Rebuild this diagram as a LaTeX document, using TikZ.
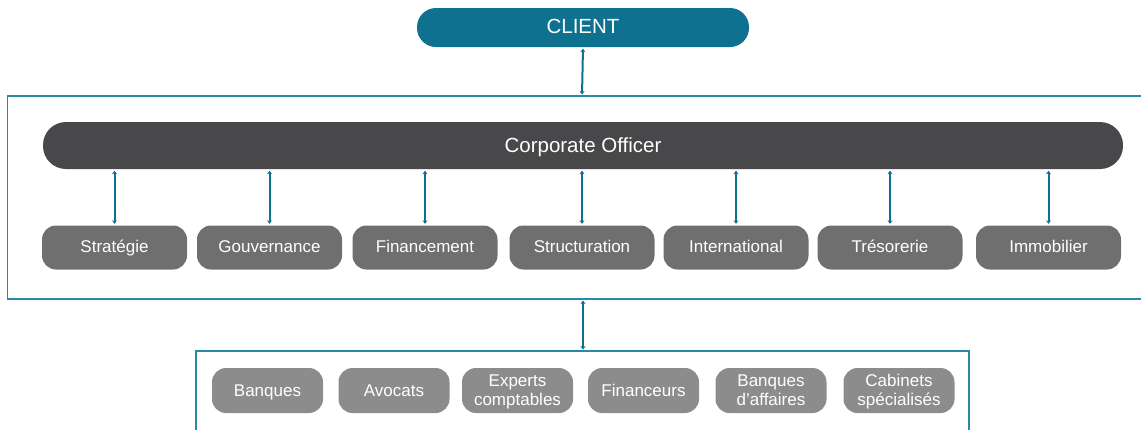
\documentclass[tikz,border=0pt]{standalone}
\usepackage{fontspec}
\setmainfont{Liberation Sans}
\usetikzlibrary{arrows.meta}
\definecolor{teal1}{HTML}{0E7190}
\definecolor{frameC}{HTML}{2A8AA2}
\definecolor{darkG}{HTML}{48484A}
\definecolor{midG}{HTML}{6F6F6F}
\definecolor{lightG}{HTML}{8D8C8D}
\tikzset{
  pill/.style={rectangle, rounded corners=#1, inner sep=0pt, text=white},
  topbox/.style={pill=19pt, fill=teal1, minimum width=332pt, minimum height=39pt, text height=14.5pt, text depth=2.9pt, font=\fontsize{20.5}{23}\selectfont},
  corpbox/.style={pill=23pt, fill=darkG, minimum width=1080pt, minimum height=47pt, text height=16pt, text depth=2pt, font=\fontsize{20.5}{23}\selectfont},
  deptbox/.style={pill=14pt, fill=midG, minimum width=145pt, minimum height=44pt, text height=12.5pt, text depth=3.5pt, font=\fontsize{17}{19}\selectfont},
  partbox/.style={pill=14pt, fill=lightG, minimum width=111pt, minimum height=45pt, align=center, text height=31pt, text depth=2pt, font=\fontsize{17}{18.3}\selectfont},
  partone/.style={partbox, text height=13.5pt, text depth=2.5pt},
  frameline/.style={draw=frameC, line width=1.6pt},
  arr/.style={draw=teal1, line width=2pt, {Stealth[length=3.5pt,width=5pt]}-{Stealth[length=3.5pt,width=5pt]}, shorten <=1.5pt, shorten >=1.5pt}
}
\begin{document}
\begin{tikzpicture}[x=1pt,y=-1pt]
\useasboundingbox (0,0) rectangle (1141,429);
% frames
\draw[frameline] (1145,96) -- (7.5,96) -- (7.5,299) -- (1145,299);
\draw[frameline] (196,433) -- (196,351) -- (969,351) -- (969,433);
\coordinate (ftop) at (582,96);
\coordinate (fbot) at (583,299);
\coordinate (btop) at (583,351);
% client
\node[topbox] (client) at (583,27.5) {CLIENT};
\draw[arr] (client.south) -- (ftop);
% corporate
\node[corpbox] (corp) at (583,145.5) {Corporate Officer};
% departments
\foreach \n/\x/\t in {s1/114.5/Stratégie, s2/269.5/Gouvernance, s3/425/Financement, s4/582/Structuration, s5/736/International, s6/890/Trésorerie, s7/1048.5/Immobilier}{
  \node[deptbox] (\n) at (\x,247.5) {\t};
  \draw[arr] (\n.north |- corp.south) -- (\n.north);
}
% link to partners
\draw[arr] (fbot) -- (btop);
% partners
\node[partone] (p1) at (267.5,390.5) {Banques};
\node[partone] (p2) at (394,390.5) {Avocats};
\node[partbox] (p3) at (517.5,390.5) {Experts\\comptables};
\node[partone] (p4) at (643.5,390.5) {Financeurs};
\node[partbox] (p5) at (771,390.5) {Banques\\d’affaires};
\node[partbox] (p6) at (899,390.5) {Cabinets\\spécialisés};
\end{tikzpicture}
\end{document}
